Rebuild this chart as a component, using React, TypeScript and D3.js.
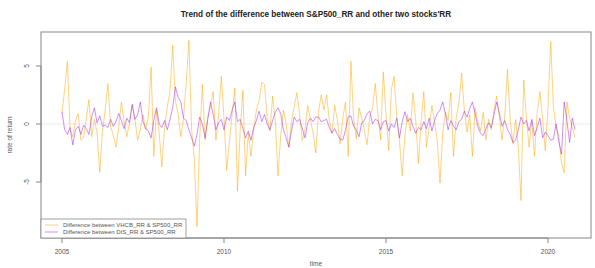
import React from "react";
import * as d3 from "d3";

const startYear = 2005;
const vhcDiff: number[] = [
  0.9, 3.0, 5.4, -0.5, -1.1, 0.3, 0.9, -1.4, -1.2, 0.5, 2.1, -1.1,
  0.4, -0.8, -4.2, -0.6, 1.2, 3.5, -0.2, -1.0, -2.0, -0.3, 1.9, 0.2,
  -1.1, 0.1, 1.6, 0.4, -1.4, -0.5, 0.8, -0.5, 0.6, 4.9, -2.8, 1.2,
  -0.8, -3.7, -0.3, 1.5, 2.8, 6.8, 2.0, 0.9, -1.1, 0.5, 3.5, 7.2,
  -0.5, -3.0, -8.85, -1.2, 3.4, -1.4, 0.6, 1.5, 2.8, -1.4, 0.8, 4.1,
  0.5, -4.0, -1.5, 0.8, 3.1, -5.8, -0.5, 2.9, -4.5, -0.8, -2.8, -0.5,
  1.2, 2.0, 3.6, 3.4, 0.5, -0.6, 2.4, 0.3, -4.5, -1.0, 1.2, 0.0,
  -2.0, 0.2, 1.5, 2.7, 0.8, -1.4, -0.5, 1.6, 0.4, -0.8, -2.5, 1.0,
  2.5, 1.2, 2.5, 0.3, -0.8, 1.6, 0.3, -1.7, 0.5, 1.9, -2.8, 5.4,
  0.5, -1.3, 1.4, 0.5, -0.6, -1.8, 0.7, 1.3, 3.5, 0.8, -1.4, 4.5,
  0.8, -2.3, 3.0, 4.1, 0.5, -1.5, -4.5, -1.0, 0.8, -0.6, 2.7, 0.3,
  -3.4, 0.2, 2.8, -2.0, -0.3, 1.6, 0.2, -1.5, -5.1, -0.8, 1.0, 0.3,
  2.7, -2.8, 0.5, 1.8, 4.4, 1.2, -0.7, 0.8, -2.8, 1.4, 0.2, -0.6,
  1.0, -1.4, 0.4, -0.5, 1.2, 2.4, 0.6, -1.4, 0.8, 4.7, 0.3, -1.7,
  0.4, -2.0, -6.6, 3.8, 0.5, -2.0, 0.3, -2.8, 1.0, 2.8, 0.4, -2.3,
  1.5, 7.1, 1.5, -0.3, -1.0, -3.4, -4.2, 1.9, 0.5, -0.3, -1.2,
];
const disDiff: number[] = [
  1.06, -0.5, -0.9, -0.3, -1.8, -0.5, -0.2, -0.9, -0.1, -0.4, -0.9, 0.6,
  1.4, 0.1, 0.7, -0.2, -0.1, -0.3, 0.4, -0.2, 0.2, 0.9, 0.3, -0.4,
  0.5, 0.1, 1.7, 0.4, 0.8, 1.9, 0.2, -0.4, -0.6, -1.2, 0.3, 1.4,
  0.0, -0.3, 0.3, -0.5, 0.4, 1.4, 3.2, 2.3, 1.9, 0.5, 0.3, -0.5,
  -1.2, -1.9, -0.9, 0.6, 0.0, -1.2, 0.4, 1.9, 0.8, -0.5, 0.1, 0.4,
  -0.5, 0.6, 0.3, 1.2, 1.9, 0.2, 0.4, -0.4, -1.2, -0.6, -1.4, -0.3,
  0.3, 1.1, 0.2, 0.8, 0.0, -0.5, 0.3, 1.0, 1.4, 0.9, -0.5, -1.2,
  -2.0, -0.6, 0.6, 0.2, 0.4, -0.4, -1.2, 0.1, 0.5, 0.2, 0.6, 0.6,
  0.2, 0.3, 0.4, -0.3, -0.8, -0.4, -0.9, -1.3, -1.4, -0.5, 0.6, 0.7,
  -0.2, -0.5, -1.1, 0.1, 0.3, 0.9, 1.1, 0.0, 0.4, 0.3, -0.5, 0.2,
  0.3, -0.6, 0.0, -0.3, 0.5, -1.2, 0.2, 1.06, 0.2, 0.5, -0.2, -0.8,
  -0.3, -0.5, 0.2, -0.4, 0.5, -0.6, 0.3, 0.9, 1.2, 1.9, 0.9, -0.5,
  0.3, -0.2, -0.5, 0.2, 0.4, 1.1, 0.6, 1.3, 1.9, 0.9, -0.2, -0.8,
  -1.0, -0.4, 0.1, -0.3, 0.8, 1.9, 0.9, -0.2, 0.3, -0.5, -0.9, -1.6,
  -1.4, -0.5, 0.6, 0.0, 0.3, -0.6, 0.4, -1.0, -0.3, 0.5, -1.2, -0.7,
  -1.0, -1.4, -1.3, 0.0, -1.5, -2.6, 1.9, 0.3, -1.6, 0.5, -0.5,
];
const xTicks = [2005, 2010, 2015, 2020];
const yTicks = [-5, 0, 5];
const titleText = "Trend of the difference between S&P500_RR and other two stocks'RR";
const legendLabels = [
  "Difference between VHCB_RR & SP500_RR",
  "Difference between DIS_RR & SP500_RR",
];
const seriesColors = ["#FFA500", "#A020F0"];

const W = 595;
const H = 268;
const L = 41;
const R = 591;
const T = 32;
const B = 238;

export default function App() {
  const x = d3.scaleLinear().domain([2004.352, 2021.327]).range([L, R]);
  const y = d3.scaleLinear().domain([-9.83, 7.93]).range([B, T]);
  const t = (i: number) => startYear + i / 12;
  const line = d3
    .line<number>()
    .x((_, i) => x(t(i)))
    .y((d) => y(d));
  const font = "'Liberation Sans', Arial, sans-serif";
  const series = [vhcDiff, disDiff];
  const opac = [0.5, 0.5];
  return (
    <svg
      width={W}
      height={H}
      style={{ position: "absolute", left: 0, top: 0, background: "#fff" }}
      fontFamily={font}
    >
      <rect x={0} y={0} width={W} height={H} fill="#fff" />
      <text x={(L + R) / 2} y={17} textAnchor="middle" fontSize={8.2} fontWeight="bold" fill="#222">
        {titleText}
      </text>
      <line x1={L} x2={R} y1={y(0)} y2={y(0)} stroke="#e2e2e2" strokeWidth={0.8} />
      {series.map((s, k) => (
        <path
          key={k}
          d={line(s) || ""}
          fill="none"
          stroke={seriesColors[k]}
          strokeOpacity={opac[k]}
          strokeWidth={1}
        />
      ))}
      <rect x={L} y={T} width={R - L} height={B - T} fill="none" stroke="#888" strokeWidth={1} />
      {/* y axis */}
      <line x1={L} x2={L} y1={y(yTicks[0])} y2={y(yTicks[yTicks.length - 1])} stroke="#888" />
      {yTicks.map((v) => (
        <g key={v}>
          <line x1={L - 5} x2={L} y1={y(v)} y2={y(v)} stroke="#888" />
          <text
            transform={`translate(${L - 12},${y(v)}) rotate(-90)`}
            textAnchor="middle"
            fontSize={6.5}
            fill="#555"
          >
            {v}
          </text>
        </g>
      ))}
      {/* x axis */}
      <line x1={x(xTicks[0])} x2={x(xTicks[xTicks.length - 1])} y1={B} y2={B} stroke="#888" />
      {xTicks.map((v) => (
        <g key={v}>
          <line x1={x(v)} x2={x(v)} y1={B} y2={B + 5} stroke="#888" />
          <text x={x(v)} y={254} textAnchor="middle" fontSize={6.5} fill="#555">
            {v}
          </text>
        </g>
      ))}
      <text x={(L + R) / 2} y={266} textAnchor="middle" fontSize={6.5} fill="#555">
        time
      </text>
      <text transform={`translate(12,${(T + B) / 2}) rotate(-90)`} textAnchor="middle" fontSize={6.5} fill="#555">
        rate of return
      </text>
      {/* legend */}
      <rect x={L} y={219} width={145} height={B - 219} fill="#fff" stroke="#888" strokeWidth={0.8} />
      {legendLabels.map((lab, k) => (
        <g key={k}>
          <line
            x1={L + 4}
            x2={L + 17}
            y1={225 + k * 7}
            y2={225 + k * 7}
            stroke={seriesColors[k]}
            strokeOpacity={opac[k]}
          />
          <text x={L + 22} y={227.3 + k * 7} fontSize={6} fill="#555">
            {lab}
          </text>
        </g>
      ))}
    </svg>
  );
}
